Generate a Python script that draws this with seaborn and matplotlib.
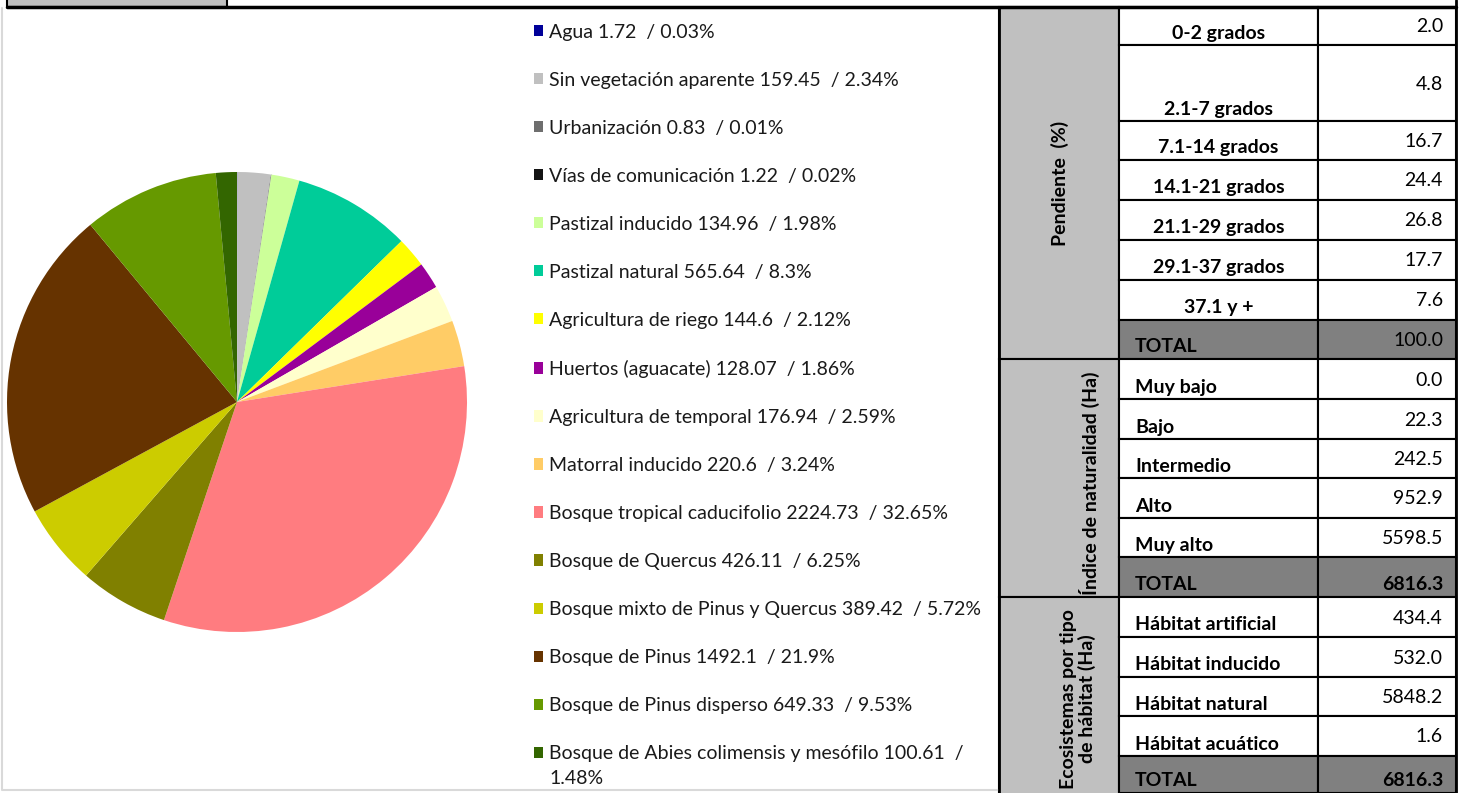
import matplotlib
matplotlib.use('Agg')

import matplotlib.pyplot as plt
import seaborn as sns
from matplotlib.patches import Rectangle

# land use / vegetation (Ha and %)
uso_nombres = ['Agua', 'Sin vegetación aparente', 'Urbanización', 'Vías de comunicación',
               'Pastizal inducido', 'Pastizal natural', 'Agricultura de riego',
               'Huertos (aguacate)', 'Agricultura de temporal', 'Matorral inducido',
               'Bosque tropical caducifolio', 'Bosque de Quercus',
               'Bosque mixto de Pinus y Quercus', 'Bosque de Pinus',
               'Bosque de Pinus disperso', 'Bosque de Abies colimensis y mesófilo']
uso_ha = [1.72, 159.45, 0.83, 1.22, 134.96, 565.64, 144.6, 128.07, 176.94, 220.6,
          2224.73, 426.11, 389.42, 1492.1, 649.33, 100.61]
uso_pct = ['0.03', '2.34', '0.01', '0.02', '1.98', '8.3', '2.12', '1.86', '2.59', '3.24',
           '32.65', '6.25', '5.72', '21.9', '9.53', '1.48']
uso_colores = ['#000099', '#C0C0C0', '#6E6E6E', '#141414', '#CCFF99', '#00CC99', '#FFFF00',
               '#990099', '#FFFFCC', '#FFCC66', '#FF7C80', '#808000', '#CCCC00',
               '#663300', '#669900', '#336600']

# slope table (%)
pend_labels = ['0-2 grados', '2.1-7 grados', '7.1-14 grados', '14.1-21 grados',
               '21.1-29 grados', '29.1-37 grados', '37.1 y +']
pend_values = [2.0, 4.8, 16.7, 24.4, 26.8, 17.7, 7.6]
pend_total = 100.0

# naturalness index (Ha)
nat_labels = ['Muy bajo', 'Bajo', 'Intermedio', 'Alto', 'Muy alto']
nat_values = [0.0, 22.3, 242.5, 952.9, 5598.5]
nat_total = 6816.3

# habitat type (Ha)
hab_labels = ['Hábitat artificial', 'Hábitat inducido', 'Hábitat natural', 'Hábitat acuático']
hab_values = [434.4, 532.0, 5848.2, 1.6]
hab_total = 6816.3

sns.set_theme(style='white')
plt.rcParams['font.family'] = ['Lato', 'DejaVu Sans']

W, H = 1463, 793
FS = 14
fig = plt.figure(figsize=(W / 100, H / 100), dpi=100)
fig.patch.set_facecolor('white')

# background axes in pixel coordinates for frames and table
bg = fig.add_axes([0, 0, 1, 1])
bg.set_xlim(0, W)
bg.set_ylim(H, 0)
bg.axis('off')

# chart area frame + top strip
bg.plot([2, 2, 998], [8, 790, 790], color='#D9D9D9', lw=1.5)
bg.add_patch(Rectangle((7, -2), 220, 8.5, facecolor='#C0C0C0', edgecolor='black', lw=1.5))
bg.plot([7, 1456], [6.5, 6.5], color='black', lw=2.5)
bg.plot([1456, 1456], [0, H], color='black', lw=2)

# pie
palette = sns.color_palette(uso_colores)
ax = fig.add_axes([7 / W, 1 - 632 / H, 460 / W, 460 / H])
wedges, _ = ax.pie(uso_ha, colors=palette, startangle=90, counterclock=False,
                   wedgeprops=dict(linewidth=0))
ax.set_xlim(-1, 1)
ax.set_ylim(-1, 1)
ax.set_aspect('equal')

labels = [f'{n} {v:g}  / {p}%' for n, v, p in zip(uso_nombres, uso_ha, uso_pct)]
# last entry wraps in the original; the tail goes on its own line below
head, tail = labels[-1].split('  / ')
labels[-1] = head + '  /'
leg = fig.legend(wedges, labels, loc='upper left', bbox_to_anchor=(524 / W, 1 - 14 / H),
                 bbox_transform=fig.transFigure, frameon=False, fontsize=FS,
                 handlelength=0.5, handleheight=0.5, handletextpad=0.3,
                 labelspacing=1.595, borderpad=0, labelcolor='#1a1a1a')
fig.canvas.draw()
last = leg.get_texts()[-1].get_window_extent()
fig.text(last.x0 / W, (last.y0 - 25) / H, tail, ha='left', va='bottom',
         fontsize=FS, color='#1a1a1a')

# table
x0, x1, x2, x3 = 999, 1119, 1318, 1456
edges = [7, 45, 121, 160, 200, 240, 280, 320, 359, 399, 439, 478, 518, 557, 597,
         637, 677, 716, 756, 793]

rows = []
for lab, val in zip(pend_labels, pend_values):
    rows.append((lab, f'{val:.1f}', 'center', False))
rows.append(('TOTAL', f'{pend_total:.1f}', 'total', False))
for lab, val in zip(nat_labels, nat_values):
    rows.append((lab, f'{val:.1f}', 'left', False))
rows.append(('TOTAL', f'{nat_total:.1f}', 'total', True))
for lab, val in zip(hab_labels, hab_values):
    rows.append((lab, f'{val:.1f}', 'left', False))
rows.append(('TOTAL', f'{hab_total:.1f}', 'total', True))

# group columns
for top, bot in [(7, 359), (359, 597), (597, 795)]:
    bg.add_patch(Rectangle((x0, top), x1 - x0, bot - top, facecolor='#C0C0C0',
                           edgecolor='black', lw=1.5))

for i, (lab, val, kind, bold_val) in enumerate(rows):
    top, bot = edges[i], edges[i + 1]
    fc = '#808080' if kind == 'total' else 'white'
    bg.add_patch(Rectangle((x1, top), x2 - x1, bot - top, facecolor=fc, edgecolor='black', lw=1.5))
    bg.add_patch(Rectangle((x2, top), x3 - x2, bot - top, facecolor=fc, edgecolor='black', lw=1.5))
    ly = bot - 12
    vy = (top + bot) / 2 + 1
    if kind == 'total' and bold_val:
        vy = bot - 13
    if kind == 'center':
        bg.text((x1 + x2) / 2, ly, lab, ha='center', va='center', fontsize=FS,
                fontweight='bold', color='black')
    else:
        bg.text(1135, ly, lab, ha='left', va='center', fontsize=FS,
                fontweight='bold', color='black')
    bg.text(1443, vy, val, ha='right', va='center', fontsize=FS,
            fontweight='bold' if bold_val else 'normal', color='black')

bg.plot([x0, x0], [7, H], color='black', lw=2)

bg.text(1060, 183, 'Pendiente  (%)', rotation=90, ha='center', va='center',
        fontsize=FS, fontweight='bold', color='black')
bg.text(1089, 595, 'Índice de naturalidad (Ha)', rotation=90, ha='center', va='bottom',
        fontsize=FS, fontweight='bold', color='black')
bg.text(1078, 789, 'Ecosistemas por tipo\nde hábitat (Ha)', rotation=90, ha='center',
        va='bottom', multialignment='center', fontsize=FS, fontweight='bold',
        color='black', linespacing=1.05)

fig.savefig('out.png', dpi=100, facecolor='white')
